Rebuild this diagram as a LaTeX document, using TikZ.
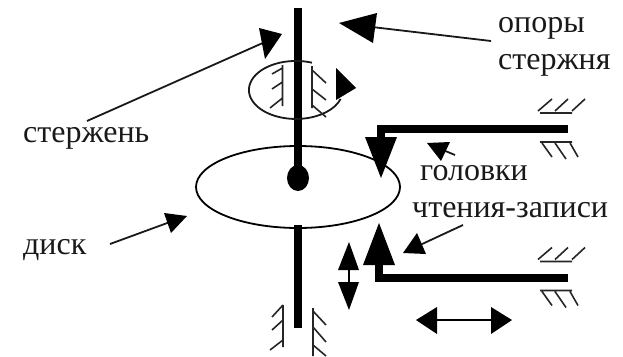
\documentclass[tikz,border=0pt]{standalone}
\usepackage{fontspec}
\setmainfont{Liberation Serif}
\tikzset{
  lbl/.style={font=\fontsize{32}{35}\selectfont,inner sep=0pt,text=black!90,anchor=base west},
  thick rod/.style={line width=8pt,line cap=butt},
  thin line/.style={line width=1.8pt,draw=black!90},
  hatch/.style={line width=1.6pt,draw=black!85},
  head/.style={fill=black,draw=none}
}
\begin{document}
\begin{tikzpicture}[x=1pt,y=-1pt]
\useasboundingbox (0,0) rectangle (623,356);
% disc
\draw[line width=1.8pt] (298,187) ellipse [x radius=102,y radius=41];
% spindle
\coordinate (r1) at (298,8);
\coordinate (r2) at (298,178);
\coordinate (r3) at (298,225);
\coordinate (r4) at (298,328);
\draw[thick rod] (r1) -- (r2);
\draw[thick rod] (r3) -- (r4);
\fill (r2) ellipse [x radius=11,y radius=13];
% rotation ellipse, open at upper right
\draw[thin line] (312,62.7) arc [start angle=-70,end angle=-342,x radius=47,y radius=29];
\fill[head] (336,68) -- (356,88) -- (336,100) -- cycle;
% upper bearing
\draw[hatch] (282.5,65) -- (282.5,106) (282.5,68) -- (272,74) (282.5,82) -- (272,89) (282.5,98) -- (270,108);
\draw[hatch] (312,66) -- (312,108) (312,70) -- (326,83) (312,89) -- (326,100) (312,105) -- (326,117);
% lower bearing
\draw[hatch] (283,305) -- (283,347) (283,305) -- (272,317) (283,320) -- (272,330) (283,340) -- (270,350);
\draw[hatch] (313,308) -- (313,356) (313,311) -- (326,325) (313,327) -- (326,342) (313,345) -- (326,356);
% head arms
\draw[thick rod] (568,129) -- (381,129) -- (381,140);
\fill[head] (365,137) -- (397,137) -- (381,178) -- cycle;
\draw[thick rod] (568,277.5) -- (379,277.5) -- (379,262);
\fill[head] (363,265) -- (395,265) -- (379,223) -- cycle;
% supports
\foreach \d in {0,148.5}{
  \begin{scope}[yshift=-\d pt]
    \draw[hatch] (540,113) -- (572,113) (538,111) -- (552,99) (555,111) -- (568,99) (572,111) -- (585,99);
    \draw[hatch] (540,142) -- (572,142) (542,143) -- (552,157) (555,143) -- (566,159) (570,143) -- (578,157);
  \end{scope}
}
% motion arrows
\draw[line width=1.8pt] (349,265) -- (349,285);
\fill[head] (349,242) -- (338,270) -- (359,270) -- cycle;
\fill[head] (338,282) -- (359,282) -- (349,310) -- cycle;
\draw[line width=1.8pt] (430,320) -- (498,320);
\fill[head] (416,320) -- (437,307) -- (437,334) -- cycle;
\fill[head] (512,320) -- (491,307) -- (491,334) -- cycle;
% labels
\node[lbl] (t1) at (498,32) {опоры};
\node[lbl] (t2) at (498,69) {стержня};
\node[lbl] (t3) at (23,142) {стержень};
\node[lbl] (t4) at (23,254) {диск};
\node[lbl] (t5) at (420,180) {головки};
\node[lbl] (t6) at (412,217) {чтения-записи};
% label arrows
\draw[thin line] (87,121) -- (265,42);
\fill[head] (259,28) -- (282,34) -- (265,59) -- cycle;
\draw[thin line] (491,41) -- (372,27);
\fill[head] (339,23) -- (377,13) -- (373,43) -- cycle;
\draw[thin line] (110,244) -- (170,222);
\fill[head] (164,213) -- (187,216) -- (171,233) -- cycle;
\draw[thin line] (455,155) -- (443,150);
\fill[head] (427,143) -- (450,142) -- (441,161) -- cycle;
\draw[thin line] (463,225) -- (420,245);
\fill[head] (403,253) -- (426,254) -- (417,233) -- cycle;
\end{tikzpicture}
\end{document}
